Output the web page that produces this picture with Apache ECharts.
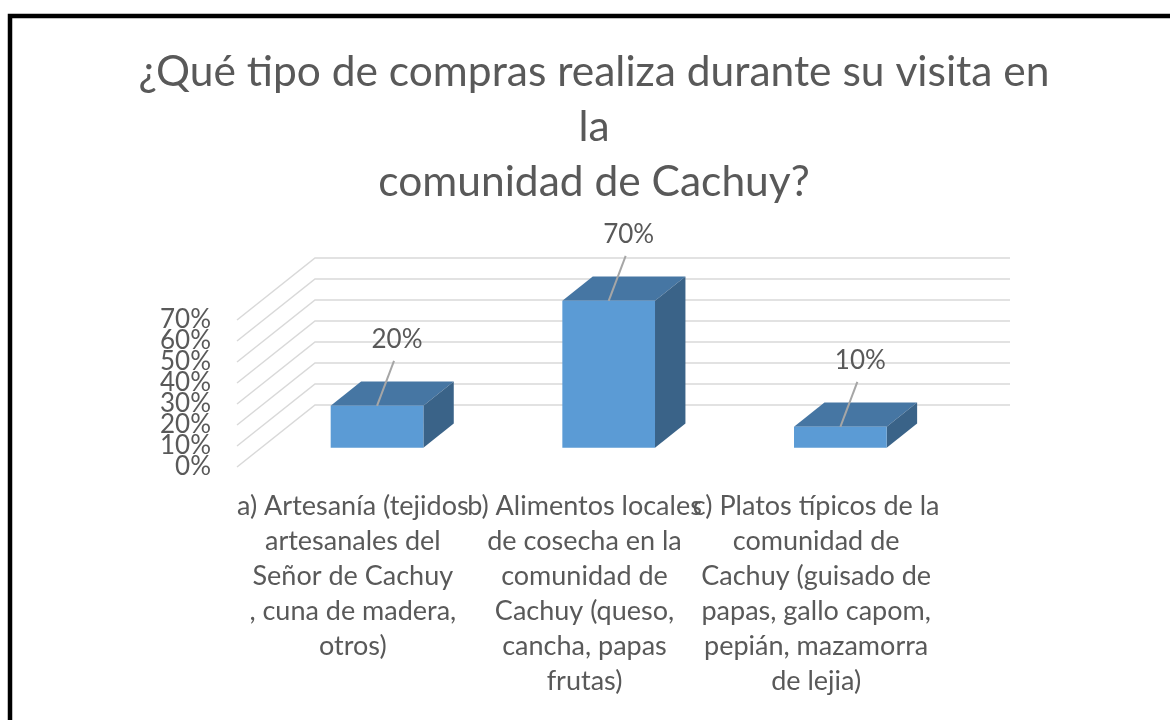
<!DOCTYPE html>
<html>
<head>
<meta charset="utf-8">
<script src="https://cdn.jsdelivr.net/npm/echarts@6/dist/echarts.min.js"></script>
<style>
  html, body { margin: 0; padding: 0; background: #fff; }
  #main { width: 1170px; height: 720px; }
</style>
</head>
<body>
<div id="main"></div>
<script>
var categories = [
    'a) Artesanía (tejidos\nartesanales del\nSeñor de Cachuy\n, cuna de madera,\notros)',
    'b) Alimentos locales\nde cosecha en la\ncomunidad de\nCachuy (queso,\ncancha, papas\nfrutas)',
    'c) Platos típicos de la\ncomunidad de\nCachuy (guisado de\npapas, gallo capom,\npepián, mazamorra\nde lejia)'
];
var shares = [0.2, 0.7, 0.1];
var yTicks = [0, 0.1, 0.2, 0.3, 0.4, 0.5, 0.6, 0.7];

// depth of the floor (front edge -> back wall), in pixels
var DEPTH_X = 78, DEPTH_Y = -62;
var BAR_FRONT = 0.31, BAR_BACK = 0.70;
var textColor = '#595959';
var font = 'Lato, "Noto Sans", sans-serif';

function pct(v) {
    return Math.round(v * 100) + '%';
}

var chart = echarts.init(document.getElementById('main'));

// back wall + side gridlines, with the tick label on the front edge
function renderGrid(params, api) {
    var cs = params.coordSys;
    var y = api.coord([0, api.value(1)])[1];
    var left = cs.x, right = cs.x + cs.width;
    return {
        type: 'group',
        children: [
            {
                type: 'polyline',
                shape: {
                    points: [
                        [left, y],
                        [left + DEPTH_X, y + DEPTH_Y],
                        [right + DEPTH_X, y + DEPTH_Y]
                    ]
                },
                style: { stroke: '#d9d9d9', lineWidth: 1.5, fill: null }
            },
            {
                type: 'text',
                x: left - 26,
                y: y,
                style: {
                    text: pct(api.value(1)),
                    fill: textColor,
                    font: '26px ' + font,
                    align: 'right',
                    verticalAlign: 'middle'
                }
            }
        ]
    };
}

function renderBar(params, api) {
    var base = api.coord([api.value(0), 0]);
    var top = api.coord([api.value(0), api.value(1)]);
    var band = api.size([1, 0])[0];
    var w = band * 0.4;
    var fx = DEPTH_X * BAR_FRONT, fy = DEPTH_Y * BAR_FRONT;
    var dx = DEPTH_X * (BAR_BACK - BAR_FRONT), dy = DEPTH_Y * (BAR_BACK - BAR_FRONT);
    var x0 = base[0] - w / 2 + fx, x1 = base[0] + w / 2 + fx;
    var yb = base[1] + fy, yt = top[1] + fy;
    var cx = base[0] + fx;
    return {
        type: 'group',
        children: [
            {
                type: 'polygon',
                shape: { points: [[x0, yt], [x1, yt], [x1 + dx, yt + dy], [x0 + dx, yt + dy]] },
                style: { fill: '#4676a3' }
            },
            {
                type: 'polygon',
                shape: { points: [[x1, yt], [x1 + dx, yt + dy], [x1 + dx, yb + dy], [x1, yb]] },
                style: { fill: '#3a6388' }
            },
            {
                type: 'rect',
                shape: { x: x0, y: yt, width: w, height: yb - yt },
                style: { fill: '#5b9bd5' }
            },
            {
                type: 'line',
                shape: { x1: cx, y1: yt, x2: cx + 17, y2: yt - 45 },
                style: { stroke: '#a6a6a6', lineWidth: 2 }
            },
            {
                type: 'text',
                x: cx + 20,
                y: yt - 66,
                style: {
                    text: pct(api.value(1)),
                    fill: textColor,
                    font: '26px ' + font,
                    align: 'center',
                    verticalAlign: 'middle'
                }
            }
        ]
    };
}

var option = {
    backgroundColor: '#fff',
    animation: false,
    title: {
        text: '¿Qué tipo de compras realiza durante su visita en\nla\ncomunidad de Cachuy?',
        left: 589,
        top: 40,
        padding: 5,
        textAlign: 'center',
        textStyle: {
            fontFamily: font,
            fontSize: 42.5,
            fontWeight: 'normal',
            color: textColor,
            lineHeight: 55
        }
    },
    graphic: [{
        type: 'rect',
        shape: { x: 10, y: 16, width: 1300, height: 900 },
        style: { fill: null, stroke: '#000', lineWidth: 4.5 },
        silent: true
    }],
    grid: { left: 237, right: 238, top: 320, bottom: 253 },
    xAxis: {
        type: 'category',
        data: categories,
        axisLine: { show: false },
        axisTick: { show: false },
        axisLabel: {
            interval: 0,
            margin: 22,
            fontFamily: font,
            fontSize: 27,
            lineHeight: 35,
            color: textColor,
            align: 'center'
        }
    },
    yAxis: {
        type: 'value',
        min: 0,
        max: 0.7,
        interval: 0.1,
        axisLine: { show: false },
        axisTick: { show: false },
        splitLine: { show: false },
        axisLabel: { show: false }
    },
    series: [
        {
            type: 'custom',
            renderItem: renderGrid,
            data: yTicks.map(function (v) { return [0, v]; }),
            z: 1,
            silent: true
        },
        {
            type: 'custom',
            renderItem: renderBar,
            data: shares.map(function (v, i) { return [i, v]; }),
            z: 2
        }
    ]
};

chart.setOption(option);
</script>
</body>
</html>
